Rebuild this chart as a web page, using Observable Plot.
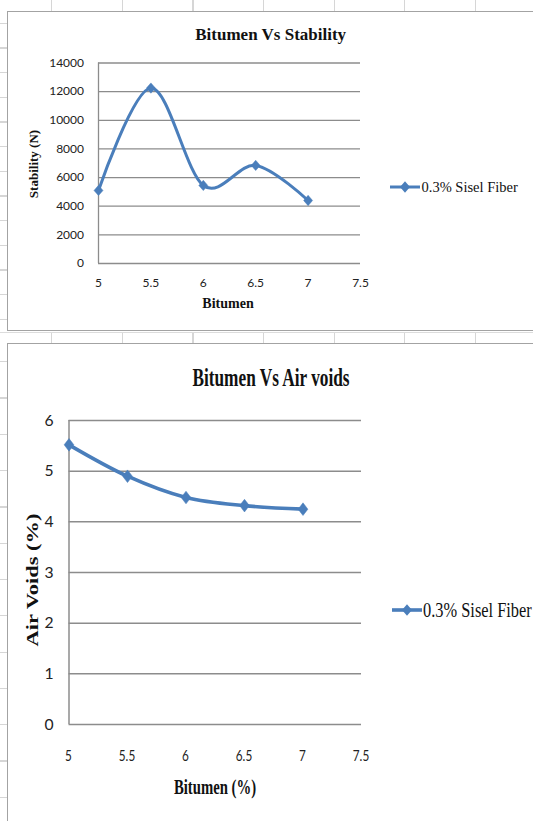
<!DOCTYPE html>
<html>
<head>
<meta charset="utf-8">
<script src="https://cdn.jsdelivr.net/npm/d3@7"></script>
<script src="https://cdn.jsdelivr.net/npm/@observablehq/plot@0.6"></script>
<style>
  html, body { margin: 0; padding: 0; background: #fff; }
  #page { position: relative; width: 533px; height: 821px; overflow: hidden; background: #fff; }
  .sheet { position: absolute; }
  .chart-box { position: absolute; left: 7px; width: 560px; border: 1.5px solid #a3a3a3; box-sizing: border-box; }
  .plot { position: absolute; left: 0; }
  .lbl { position: absolute; white-space: pre; line-height: 1; color: #111;
         font-family: "Liberation Serif", "Times New Roman", serif; }
  .swatch { position: absolute; overflow: visible; }
</style>
</head>
<body>
<div id="page"></div>
<script>
// Mix results: bitumen content (%) against Marshall stability and air voids
const bitumen = [5, 5.5, 6, 6.5, 7];
const stability = [5100, 12250, 5450, 6850, 4400];
const airVoids = [5.52, 4.9, 4.48, 4.32, 4.25];

// Axis ticks
const bitumenTicks = [5, 5.5, 6, 6.5, 7, 7.5];
const stabilityTicks = [0, 2000, 4000, 6000, 8000, 10000, 12000, 14000];
const airVoidTicks = [0, 1, 2, 3, 4, 5, 6];

// Text
const seriesName = "0.3% Sisel Fiber";
const chartTitles = ["Bitumen Vs Stability", "Bitumen Vs Air voids"];
const xLabels = ["Bitumen", "Bitumen (%)"];
const yLabels = ["Stability (N)", "Air Voids (%)"];

const BLUE = "#4a7ebb";
const GRID = "#8c8c8c";
const page = document.getElementById("page");

// Faint worksheet cell lines behind the two chart boxes
function sheetStrip(css) {
  const d = document.createElement("div");
  d.className = "sheet";
  Object.assign(d.style, css);
  page.appendChild(d);
}
const colLines = "repeating-linear-gradient(to right, transparent 0 51.2px, #d6d6d6 51.2px 52.4px, transparent 52.4px 70.6px)";
sheetStrip({left: "0px", top: "0px", width: "533px", height: "11px", background: colLines});
sheetStrip({left: "0px", top: "333px", width: "533px", height: "10px", background: colLines});
sheetStrip({left: "0px", top: "0px", width: "7px", height: "331px",
  background: "repeating-linear-gradient(to bottom, transparent 0 22.8px, #d6d6d6 22.8px 24px, transparent 24px 24.67px)"});
sheetStrip({left: "0px", top: "343px", width: "7px", height: "478px",
  background: "repeating-linear-gradient(to bottom, transparent 0 18.2px, #d6d6d6 18.2px 19.4px, transparent 19.4px 36.3px)"});
sheetStrip({left: "0px", top: "331.6px", width: "533px", height: "1px", background: "#dcdcdc"});

// Chart boxes
function chartBox(top, height) {
  const d = document.createElement("div");
  d.className = "chart-box";
  d.style.top = top + "px";
  d.style.height = height + "px";
  page.appendChild(d);
}
chartBox(11, 320);
chartBox(343, 500);

// Diamond marker, slightly taller than wide
function diamond(stretch) {
  return {
    draw(context, size) {
      const w = Math.sqrt(size) * 0.55, h = w * stretch;
      context.moveTo(0, -h);
      context.lineTo(w, 0);
      context.lineTo(0, h);
      context.lineTo(-w, 0);
      context.closePath();
    }
  };
}

function place(svg, top) {
  svg.classList.add("plot");
  svg.style.top = top + "px";
  page.appendChild(svg);
  return svg;
}

// Narrow a text horizontally and slide it so that its anchor lands on target (page px)
function squeeze(t, sx, anchorOf, target) {
  const tr = t.getAttribute("transform") || "";
  let shift = 0;
  for (let k = 0; k < 3; k++) {
    t.setAttribute("transform", `${tr} translate(${shift},0) scale(${sx},1)`.trim());
    shift += target - anchorOf(t.getBoundingClientRect());
  }
  t.setAttribute("transform", `${tr} translate(${shift},0) scale(${sx},1)`.trim());
}

// Narrow the x tick labels, each kept centred on its tick
function narrowXTicks(svg, sx) {
  const box = svg.getBoundingClientRect();
  const x = svg.scale("x");
  svg.querySelectorAll('g[aria-label^="x-axis"] text').forEach(t => {
    squeeze(t, sx, r => r.left + r.width / 2, box.left + x.apply(+t.textContent));
  });
}

function label(text, cx, cy, css, extra) {
  const d = document.createElement("div");
  d.className = "lbl";
  d.textContent = text;
  Object.assign(d.style, css);
  d.style.left = cx + "px";
  d.style.top = cy + "px";
  d.style.transform = "translate(-50%, -50%) " + (extra || "");
  page.appendChild(d);
}

function legend(x0, y, lineWidth, textCss, textScale) {
  const ns = "http://www.w3.org/2000/svg";
  const s = document.createElementNS(ns, "svg");
  s.setAttribute("class", "swatch");
  s.setAttribute("width", 31);
  s.setAttribute("height", 16);
  s.style.left = x0 + "px";
  s.style.top = (y - 8) + "px";
  const ln = document.createElementNS(ns, "line");
  ln.setAttribute("x1", 0); ln.setAttribute("x2", 30);
  ln.setAttribute("y1", 8); ln.setAttribute("y2", 8);
  ln.setAttribute("stroke", BLUE); ln.setAttribute("stroke-width", lineWidth);
  s.appendChild(ln);
  const dm = document.createElementNS(ns, "path");
  dm.setAttribute("d", "M15,2.2L20,8L15,13.8L10,8Z");
  dm.setAttribute("fill", BLUE);
  s.appendChild(dm);
  page.appendChild(s);
  const d = document.createElement("div");
  d.className = "lbl";
  d.textContent = seriesName;
  Object.assign(d.style, textCss);
  d.style.left = (x0 + 31.5) + "px";
  d.style.top = y + "px";
  d.style.transformOrigin = "left center";
  d.style.transform = `translateY(-50%) scaleX(${textScale})`;
  page.appendChild(d);
}

// ---- Bitumen vs Stability ----
const stabilityRows = bitumen.map((b, i) => ({bitumen: b, value: stability[i]}));
place(Plot.plot({
  width: 533, height: 331,
  marginLeft: 98, marginRight: 173, marginTop: 62.5, marginBottom: 68,
  style: {background: "transparent", fontFamily: "Lato, 'Open Sans', sans-serif", fontSize: "12px", color: "#222", overflow: "visible"},
  x: {domain: [5, 7.5], ticks: bitumenTicks, tickSize: 0, tickPadding: 14.5, tickFormat: d => String(d), label: null},
  y: {domain: [0, 14000], ticks: stabilityTicks, tickSize: 0, tickPadding: 14.5, tickFormat: d => String(d), label: null},
  marks: [
    Plot.ruleY(stabilityTicks, {stroke: GRID, strokeWidth: 1.3}),
    Plot.ruleX([5], {stroke: GRID, strokeWidth: 1.3}),
    Plot.line(stabilityRows, {x: "bitumen", y: "value", curve: "cardinal", stroke: BLUE, strokeWidth: 3}),
    Plot.dot(stabilityRows, {x: "bitumen", y: "value", symbol: diamond(1.15), r: 4.6, fill: BLUE, stroke: BLUE, strokeWidth: 0.5})
  ]
}), 0);

label(chartTitles[0], 270.7, 34.3, {fontWeight: "bold", fontSize: "17px"});
label(yLabels[0], 32.5, 164, {fontWeight: "bold", fontSize: "13px"}, "rotate(-90deg)");
label(xLabels[0], 228, 304, {fontWeight: "bold", fontSize: "14px"});
legend(390, 187, 3, {fontSize: "14.5px"}, 1);

// ---- Bitumen vs Air voids ----
// y tick labels are a text mark anchored to the frame's left edge
const voidRows = bitumen.map((b, i) => ({bitumen: b, value: airVoids[i]}));
const voidsSvg = place(Plot.plot({
  width: 533, height: 481,
  marginLeft: 68.5, marginRight: 172, marginTop: 80, marginBottom: 97,
  style: {background: "transparent", fontFamily: "Lato, 'Open Sans', sans-serif", fontSize: "15.7px", color: "#222", overflow: "visible"},
  x: {domain: [5, 7.5], ticks: bitumenTicks, tickSize: 0, tickPadding: 25.5, tickFormat: d => String(d), label: null},
  y: {domain: [0, 6], axis: null},
  marks: [
    Plot.ruleY(airVoidTicks, {stroke: GRID, strokeWidth: 1.5}),
    Plot.ruleX([5], {stroke: GRID, strokeWidth: 1.5}),
    Plot.text(airVoidTicks, {y: d => d, text: d => String(d), frameAnchor: "left", textAnchor: "end", dx: -15.5, fontSize: 15.7, fill: "#222"}),
    Plot.line(voidRows, {x: "bitumen", y: "value", curve: "cardinal", stroke: BLUE, strokeWidth: 3.6}),
    Plot.dot(voidRows, {x: "bitumen", y: "value", symbol: diamond(1.3), r: 5, fill: BLUE, stroke: BLUE, strokeWidth: 0.5})
  ]
}), 340);
narrowXTicks(voidsSvg, 0.75);

label(chartTitles[1], 271.4, 377, {fontWeight: "bold", fontSize: "25px"}, "scaleX(0.69)");
label(yLabels[1], 32, 580, {fontWeight: "bold", fontSize: "17px"}, "rotate(-90deg) scaleX(1.32)");
label(xLabels[1], 214.5, 786.7, {fontWeight: "bold", fontSize: "20px"}, "scaleX(0.735)");
legend(391.7, 610, 3.6, {fontSize: "21px"}, 0.78);
</script>
</body>
</html>
